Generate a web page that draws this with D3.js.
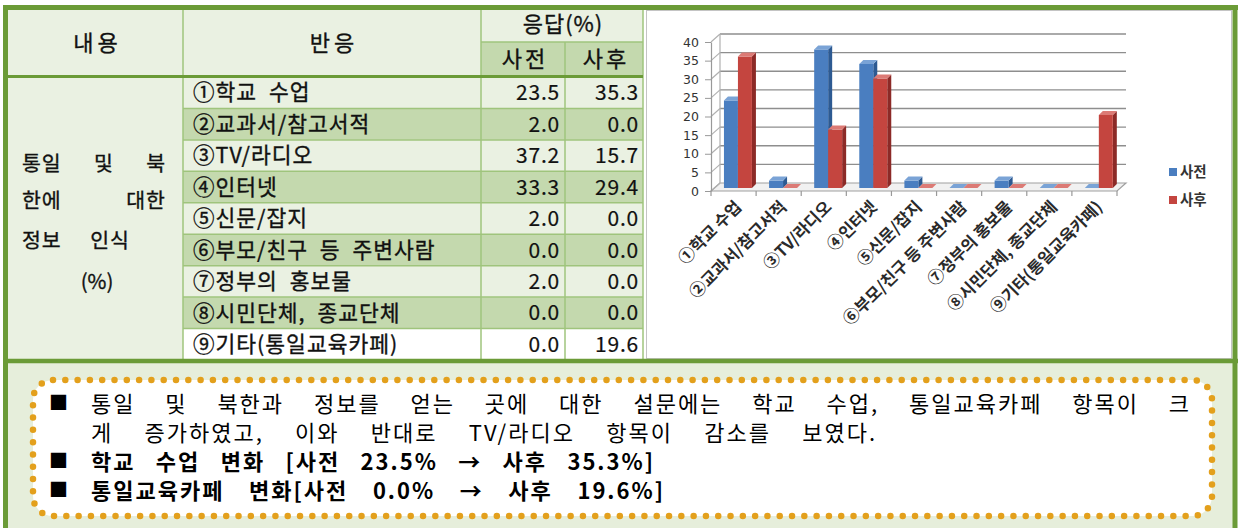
<!DOCTYPE html>
<html><head><meta charset="utf-8">
<script src="https://cdn.jsdelivr.net/npm/d3@7"></script>
<style>body{margin:0;background:#fff}svg{display:block}</style>
</head><body><svg id="c" width="1240" height="528"></svg>
<script>
const categories = ["①학교 수업","②교과서/참고서적","③TV/라디오","④인터넷","⑤신문/잡지","⑥부모/친구 등 주변사람","⑦정부의 홍보물","⑧시민단체, 종교단체","⑨기타(통일교육카페)"];
const seriesNames = ["사전","사후"];
const before = [23.5,2.0,37.2,33.3,2.0,0.0,2.0,0.0,0.0];
const after  = [35.3,0.0,15.7,29.4,0.0,0.0,0.0,0.0,19.6];
const yTicks = [0,5,10,15,20,25,30,35,40];
const headerContent = "내용", headerResponse = "반응", headerAnswer = "응답(%)";
const contentLines = ["통일 및 북","한에 대한","정보 인식","(%)"];
const summaryLines = [
  "통일 및 북한과 정보를 얻는 곳에 대한 설문에는 학교 수업, 통일교육카페 항목이 크",
  "게 증가하였고, 이와 반대로 TV/라디오 항목이 감소를 보였다.",
  "학교 수업 변화 [사전 23.5% → 사후 35.3%]",
  "통일교육카페 변화[사전 0.0% → 사후 19.6%]"
];
const bullet = "■";

const svg = d3.select("#c");
const KR = "'Noto Sans CJK KR','Noto Sans',sans-serif";
const green = "#6b9b37", thin = "#9fc47c", light = "#eaf1e2", dark = "#c4d9ae";
const seriesColors = [
  {front:"#4a7ec0", side:"#2d5a92", top:"#7aa3d6"},
  {front:"#c4453f", side:"#8c2a27", top:"#dc7a75"}
];

function fitTo(sel, target){
  const n = sel.text().split(" ").length - 1;
  const w = sel.node().getComputedTextLength();
  if(n>0) sel.attr("word-spacing", (target - w)/n);
}
function kText(g, t, x, y, size, opts={}){
  return g.append("text").attr("x",x).attr("y",y).attr("dy","0.36em")
    .attr("font-family",KR).attr("font-size",size)
    .attr("font-weight",opts.bold?"bold":"normal")
    .attr("letter-spacing",opts.ls||0)
    .attr("text-anchor",opts.anchor||"start")
    .attr("fill","#111").attr("stroke","#111").attr("stroke-width",opts.sw===undefined?0.35:opts.sw)
    .text(t);
}

/* ---------- TABLE ---------- */
const colX = [8,183,481,565,643];
const rows = d3.scaleBand().domain(d3.range(categories.length)).range([77,360]);
const T = svg.append("g");
T.append("rect").attr("x",colX[0]).attr("y",9).attr("width",colX[2]-colX[0]).attr("height",68).attr("fill",light);
T.append("rect").attr("x",colX[2]).attr("y",9).attr("width",colX[4]-colX[2]).attr("height",33).attr("fill",light);
T.append("rect").attr("x",colX[2]).attr("y",42).attr("width",colX[4]-colX[2]).attr("height",35).attr("fill",dark);
T.append("rect").attr("x",colX[0]).attr("y",77).attr("width",colX[1]-colX[0]).attr("height",283).attr("fill",light);
categories.forEach((c,i)=>{
  const f = i===categories.length-1 ? "#ffffff" : (i%2===0 ? light : dark);
  T.append("rect").attr("x",colX[1]).attr("y",rows(i)).attr("width",colX[4]-colX[1]).attr("height",rows.bandwidth()).attr("fill",f);
});
[colX[1],colX[2]].forEach(x=>T.append("line").attr("x1",x).attr("x2",x).attr("y1",9).attr("y2",360).attr("stroke",thin).attr("stroke-width",1.5));
T.append("line").attr("x1",colX[3]).attr("x2",colX[3]).attr("y1",42).attr("y2",360).attr("stroke",thin).attr("stroke-width",1.5);
T.append("line").attr("x1",colX[4]).attr("x2",colX[4]).attr("y1",9).attr("y2",360).attr("stroke",thin).attr("stroke-width",1.5);
T.append("line").attr("x1",colX[2]).attr("x2",colX[4]).attr("y1",42).attr("y2",42).attr("stroke",thin).attr("stroke-width",1.5);
d3.range(1,categories.length).forEach(i=>T.append("line").attr("x1",colX[1]).attr("x2",colX[4]).attr("y1",rows(i)).attr("y2",rows(i)).attr("stroke",thin).attr("stroke-width",1.5));
T.append("line").attr("x1",colX[0]).attr("x2",colX[4]).attr("y1",76.5).attr("y2",76.5).attr("stroke",green).attr("stroke-width",3);

kText(T, headerContent, (colX[0]+colX[1])/2+2, 43, 22, {anchor:"middle", ls:4});
kText(T, headerResponse, (colX[1]+colX[2])/2+2, 43, 22, {anchor:"middle", ls:4});
kText(T, headerAnswer, (colX[2]+colX[4])/2+1, 24, 22, {anchor:"middle", ls:1});
kText(T, seriesNames[0], (colX[2]+colX[3])/2+2, 59, 22, {anchor:"middle", ls:3});
kText(T, seriesNames[1], (colX[3]+colX[4])/2+2, 59, 22, {anchor:"middle", ls:3});

const cY = [164,201,241,282];
contentLines.forEach((t,i)=>{
  if(i<2){ const s = kText(T,t,22,cY[i],20.5,{ls:1}); fitTo(s,144); }
  else if(i===2){ const s = kText(T,t,22,cY[i],20.5,{ls:1}); fitTo(s,108); }
  else { kText(T,t,97,cY[i],20.5,{anchor:"middle"}); }
});
categories.forEach((c,i)=>{
  const cy = rows(i)+rows.bandwidth()/2;
  kText(T, c, 193, cy, 21.5, {ls:1}).attr("word-spacing",6);
  kText(T, before[i].toFixed(1), 560, cy, 21, {anchor:"end", ls:0.8, sw:0.2});
  kText(T, after[i].toFixed(1), 639, cy, 21, {anchor:"end", ls:0.8, sw:0.2});
});

/* ---------- CHART ---------- */
svg.append("rect").attr("x",646.5).attr("y",10.5).attr("width",585).attr("height",348).attr("fill","#fff").attr("stroke","#c4c4c4");
const x0=711, x1=1117, dx=9, dy=-8;
const xBand = d3.scaleBand().domain(categories).range([x0,x1]);
const y = d3.scaleLinear().domain([0,40]).range([191,42]);
const G = svg.append("g");
const gridC = "#8e8e8e";
G.append("path").attr("d",`M${x0},${y(0)}L${x1},${y(0)}L${x1+dx},${y(0)+dy}L${x0+dx},${y(0)+dy}Z`)
  .attr("fill","#f1f1f1").attr("stroke","#a0a0a0").attr("stroke-width",1.2);
yTicks.forEach(t=>{
  if(t>0) G.append("line").attr("x1",x0+dx).attr("x2",x1+dx).attr("y1",y(t)+dy).attr("y2",y(t)+dy).attr("stroke",gridC).attr("stroke-width",1.4);
  G.append("line").attr("x1",x0).attr("x2",x0+dx).attr("y1",y(t)).attr("y2",y(t)+dy).attr("stroke","#b0b0b0").attr("stroke-width",1.2);
});
G.append("line").attr("x1",x0+dx).attr("x2",x0+dx).attr("y1",y(0)+dy).attr("y2",y(40)+dy).attr("stroke","#b0b0b0").attr("stroke-width",1.2);
categories.concat([null]).forEach(c=>{
  const xx = c===null ? x1 : xBand(c);
  G.append("line").attr("x1",xx).attr("x2",xx).attr("y1",y(0)).attr("y2",y(0)+5).attr("stroke","#999").attr("stroke-width",1.2);
});
const bw = xBand.bandwidth(), barW = bw*0.31, dd = 4, lift = 3;
categories.forEach((c,ci)=>{
  [before,after].forEach((vals,si)=>{
    const v = vals[ci], col = seriesColors[si];
    const bx = xBand(c) + bw*0.265 + si*barW + 1;
    const base = y(0) - lift, top = y(v) - lift;
    G.append("path").attr("d",`M${bx+barW},${top}L${bx+barW+dd},${top-dd}L${bx+barW+dd},${base-dd}L${bx+barW},${base}Z`).attr("fill",col.side);
    G.append("rect").attr("x",bx).attr("y",top).attr("width",barW).attr("height",base-top).attr("fill",col.front);
    G.append("path").attr("d",`M${bx},${top}L${bx+dd},${top-dd}L${bx+barW+dd},${top-dd}L${bx+barW},${top}Z`).attr("fill",col.top);
  });
});
const ya = G.append("g").attr("transform",`translate(${x0},0)`).call(d3.axisLeft(y).tickValues(yTicks).tickSize(6).tickSizeOuter(0).tickPadding(6));
ya.select(".domain").attr("stroke","#999").attr("stroke-width",1.2);
ya.selectAll(".tick line").attr("stroke","#999");
ya.selectAll(".tick text").attr("font-family","'DejaVu Sans',sans-serif").attr("font-size",12.5).attr("fill","#333");
const xa = G.append("g").attr("transform",`translate(0,${y(0)})`).call(d3.axisBottom(xBand).tickSize(0).tickSizeOuter(0));
xa.select(".domain").remove();
xa.selectAll(".tick text").attr("y",0).attr("dy",0).attr("text-anchor","end")
  .attr("transform","translate(9,17) rotate(-45)")
  .attr("font-family",KR).attr("font-size",16.5).attr("font-weight","bold").attr("fill","#2a2a2a");
seriesNames.forEach((s,i)=>{
  const ly = 172 + i*28;
  G.append("rect").attr("x",1169).attr("y",ly-4).attr("width",8).attr("height",8).attr("fill",seriesColors[i].front);
  G.append("text").attr("x",1180).attr("y",ly).attr("dy","0.36em").attr("font-family",KR).attr("font-size",14.5).attr("font-weight","bold").attr("fill","#333").text(s);
});

/* ---------- SUMMARY ---------- */
svg.append("rect").attr("x",8).attr("y",363).attr("width",1225).attr("height",165).attr("fill","#e6eedb");
svg.append("rect").attr("x",33).attr("y",380).attr("width",1179).attr("height",136).attr("rx",20)
  .attr("fill","#fff").attr("stroke","#e3a01c").attr("stroke-width",6.5).attr("stroke-linecap","round").attr("stroke-dasharray","0 12.3");
const sY = [404,433,462,491];
const sTarget = [1100, 786, 564, 574];
summaryLines.forEach((t,i)=>{
  const bold = i>=2;
  if(i!==1) svg.append("text").attr("x",49).attr("y",sY[i]).attr("dy","0.34em").attr("font-family",KR).attr("font-size",19).attr("fill","#000").text(bullet);
  const s = svg.append("text").attr("x",91).attr("y",sY[i]).attr("dy","0.36em").attr("font-family",KR).attr("font-size",22)
    .attr("letter-spacing",2).attr("font-weight",bold?"bold":"normal").attr("fill","#000").text(t);
  fitTo(s, sTarget[i]);
});

/* ---------- FRAME ---------- */
svg.append("line").attr("x1",3).attr("x2",1238).attr("y1",7.5).attr("y2",7.5).attr("stroke",green).attr("stroke-width",5);
svg.append("line").attr("x1",3).attr("x2",1238).attr("y1",361).attr("y2",361).attr("stroke",green).attr("stroke-width",4.5);
svg.append("line").attr("x1",5.5).attr("x2",5.5).attr("y1",5).attr("y2",528).attr("stroke",green).attr("stroke-width",5);
svg.append("line").attr("x1",1235).attr("x2",1235).attr("y1",5).attr("y2",528).attr("stroke",green).attr("stroke-width",5);
</script></body></html>
